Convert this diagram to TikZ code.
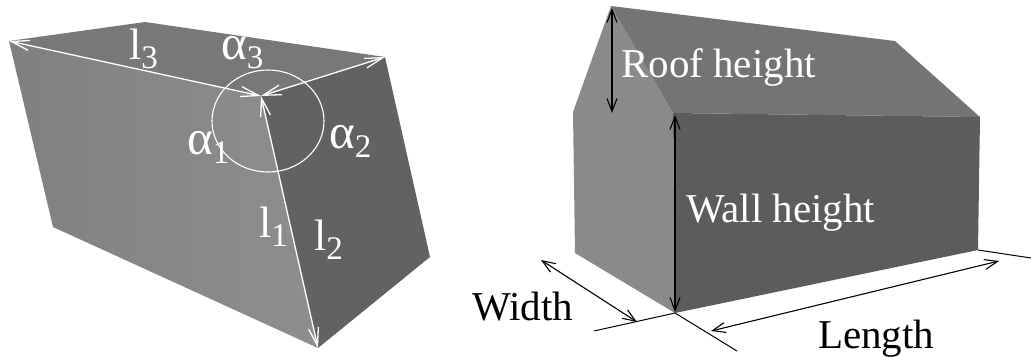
\documentclass[tikz,border=0pt]{standalone}
\usepackage{fontspec}
\setmainfont{Liberation Serif}
\usetikzlibrary{arrows.meta}
\newcommand\lowsub[1]{\raisebox{-9pt}{\fontsize{33}{33}\selectfont #1}}
\newcommand\bigalpha{{\fontsize{49}{49}\selectfont α}}
\begin{document}
\begin{tikzpicture}[x=1pt,y=-1pt,
  whitedim/.style={draw=white, line width=1.3pt,
    {Straight Barb[length=18pt,width=10pt]}-{Straight Barb[length=18pt,width=10pt]}},
  blackdim/.style={draw=black, line width=1.1pt,
    {Straight Barb[length=13pt,width=10pt]}-{Straight Barb[length=13pt,width=10pt]}},
  extline/.style={draw=black, line width=1pt},
  symlabel/.style={text=white, inner sep=0pt, anchor=base west,
    font=\fontsize{44}{44}\selectfont},
  houselabel/.style={inner sep=0pt, anchor=base west,
    font=\fontsize{41}{41}\selectfont}]
\useasboundingbox (0,0) rectangle (1031,362);

% ---------- slanted box with its three edges and angles ----------
\coordinate (A) at (9,41);
\coordinate (B) at (145,22);
\coordinate (D) at (385,57);
\coordinate (C) at (261,96);
\coordinate (E) at (318,348);
\coordinate (F) at (53,227);
\coordinate (G) at (430,257);

\fill[fill={rgb,255:red,120;green,120;blue,120}] (A) -- (B) -- (D) -- (C) -- cycle;
\shade[left color={rgb,255:red,128;green,128;blue,128},
       right color={rgb,255:red,142;green,142;blue,142}]
  (A) -- (C) -- (E) -- (F) -- cycle;
\fill[fill={rgb,255:red,98;green,98;blue,98}] (C) -- (D) -- (G) -- (E) -- cycle;

\draw[whitedim] (A) -- (C);
\draw[whitedim] (D) -- (C);
\draw[whitedim] (C) -- (E);
\coordinate (Ac) at (268,121);
\draw[white, line width=1.1pt] (Ac) ellipse [x radius=56pt, y radius=51pt];

\node[symlabel] (l3) at (129,59) {l\lowsub{3}};
\node[symlabel] (a3) at (221,59) {\bigalpha\lowsub{3}};
\node[symlabel] (a1) at (187,154) {\bigalpha\lowsub{1}};
\node[symlabel] (a2) at (329,148) {\bigalpha\lowsub{2}};
\node[symlabel] (l1) at (259,237) {l\lowsub{1}};
\node[symlabel] (l2) at (314,250) {l\lowsub{2}};

% ---------- house with its dimensions ----------
\coordinate (P) at (611,6);
\coordinate (R) at (895,41);
\coordinate (EL) at (573,112);
\coordinate (ER) at (673,113);
\coordinate (WR) at (980,117);
\coordinate (BL) at (575,253);
\coordinate (BN) at (675,313);
\coordinate (BR) at (978,250);

\fill[fill={rgb,255:red,138;green,138;blue,138}] (P) -- (EL) -- (BL) -- (BN) -- (ER) -- cycle;
\fill[fill={rgb,255:red,116;green,116;blue,116}] (P) -- (R) -- (WR) -- (ER) -- cycle;
\fill[fill={rgb,255:red,92;green,92;blue,92}] (ER) -- (WR) -- (BR) -- (BN) -- cycle;

\coordinate (roofT) at (612,8);
\coordinate (roofB) at (612,113);
\coordinate (wallT) at (675,115);
\coordinate (wallB) at (675,312);
\draw[blackdim] (roofT) -- (roofB);
\draw[blackdim] (wallT) -- (wallB);

% extension lines at the base
\coordinate (extL) at (594,331);
\coordinate (extD) at (737,351);
\coordinate (extR) at (1031,258);
\draw[extline] (extL) -- (BN) -- (extD);
\draw[extline] (BR) -- (extR);

\coordinate (wA) at (541,260);
\coordinate (wB) at (637,322);
\coordinate (lA) at (711,331);
\coordinate (lB) at (999,261);
\draw[blackdim] (wA) -- (wB);
\draw[blackdim] (lA) -- (lB);

\node[houselabel, text=white] (roof) at (621,77) {Roof height};
\node[houselabel, text=white] (wall) at (686,222) {Wall height};
\node[houselabel] (width) at (472,320) {Width};
\node[houselabel] (length) at (818,348) {Length};
\end{tikzpicture}
\end{document}
